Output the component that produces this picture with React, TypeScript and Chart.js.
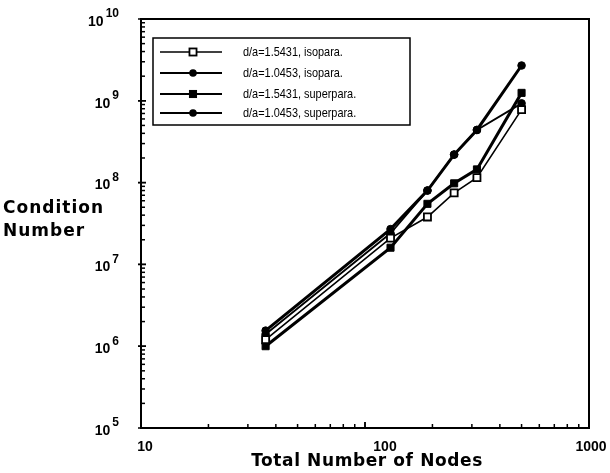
import React, { useEffect, useRef } from "react";
import { Chart, registerables } from "chart.js";

Chart.register(...registerables);

const nodes = [36, 130, 190, 250, 316, 500];
const isoA = [1.2e6, 2.1e7, 3.8e7, 7.5e7, 1.15e8, 7.8e8]; // d/a=1.5431, isopara.
const isoB = [1.4e6, 2.4e7, 8.0e7, 2.2e8, 4.4e8, 9.3e8]; // d/a=1.0453, isopara.
const superA = [1.0e6, 1.6e7, 5.5e7, 9.8e7, 1.45e8, 1.25e9]; // d/a=1.5431, superpara.
const superB = [1.55e6, 2.7e7, 8.0e7, 2.2e8, 4.4e8, 2.7e9]; // d/a=1.0453, superpara.
const seriesLabels = [
  "d/a=1.5431, isopara.",
  "d/a=1.0453, isopara.",
  "d/a=1.5431, superpara.",
  "d/a=1.0453, superpara.",
];
const xMajorTicks = [10, 100, 1000];
const yMajorExps = [5, 6, 7, 8, 9, 10];
const xTitle = "Total Number of Nodes";
const yTitleLines = ["Condition", "Number"];

const decorPlugin = {
  id: "decor",
  afterDraw(chart: any) {
    const ctx = chart.ctx as CanvasRenderingContext2D;
    const ca = chart.chartArea;
    const xs = chart.scales.x;
    const ys = chart.scales.y;
    ctx.save();
    ctx.strokeStyle = "#000";
    ctx.fillStyle = "#000";
    // frame
    ctx.lineWidth = 2;
    ctx.strokeRect(ca.left, ca.top, ca.right - ca.left, ca.bottom - ca.top);
    // x minor/major ticks (inward)
    ctx.lineWidth = 1.5;
    for (let d = 10; d < 1000; d *= 10) {
      for (let m = 1; m <= 10; m++) {
        const v = d * m;
        const px = xs.getPixelForValue(v);
        const len = m === 1 || m === 10 ? 6 : 4;
        ctx.beginPath();
        ctx.moveTo(px, ca.bottom);
        ctx.lineTo(px, ca.bottom - len);
        ctx.stroke();
      }
    }
    // y minor/major ticks
    for (let e = 5; e < 10; e++) {
      for (let m = 1; m <= 10; m++) {
        const v = m * Math.pow(10, e);
        const py = ys.getPixelForValue(v);
        const major = m === 1 || m === 10;
        ctx.beginPath();
        ctx.moveTo(ca.left - (major ? 3 : 0), py);
        ctx.lineTo(ca.left + (major ? 5 : 4), py);
        ctx.stroke();
      }
    }
    // x tick labels
    ctx.font = "bold 14px 'Liberation Sans', Arial, sans-serif";
    ctx.textAlign = "center";
    ctx.textBaseline = "middle";
    xMajorTicks.forEach((t) => {
      const shift = t === 100 ? 20 : t === 10 ? 4 : 2;
      ctx.fillText(String(t), xs.getPixelForValue(t) + shift, ca.bottom + 19);
    });
    // y tick labels with exponent
    yMajorExps.forEach((e) => {
      const py = ys.getPixelForValue(Math.pow(10, e));
      ctx.font = "bold 12px 'Liberation Sans', Arial, sans-serif";
      const expStr = String(e);
      const ew = ctx.measureText(expStr).width;
      const right = 119;
      ctx.textAlign = "right";
      ctx.fillText(expStr, right, py - 5);
      ctx.font = "bold 14px 'Liberation Sans', Arial, sans-serif";
      ctx.fillText("10", right - ew - 2, py + 3);
    });
    // axis titles
    ctx.font = "bold 17px 'DejaVu Sans', sans-serif";
    (ctx as any).letterSpacing = "0.6px";
    ctx.textAlign = "center";
    ctx.fillText(xTitle, (ca.left + ca.right) / 2 + 2, ca.bottom + 34);
    (ctx as any).letterSpacing = "1px";
    ctx.textAlign = "left";
    ctx.fillText(yTitleLines[0], 3, 209);
    ctx.fillText(yTitleLines[1], 3, 232);
    (ctx as any).letterSpacing = "0px";

    // legend box
    const lx = 153, ly = 38, lw = 257, lh = 87;
    ctx.fillStyle = "#fff";
    ctx.fillRect(lx, ly, lw, lh);
    ctx.fillStyle = "#000";
    ctx.lineWidth = 1.5;
    ctx.strokeRect(lx, ly, lw, lh);
    const rowY = [52, 73, 94, 113];
    chart.data.datasets.forEach((ds: any, i: number) => {
      const y = rowY[i];
      ctx.lineWidth = Math.min(ds.borderWidth, 2);
      ctx.strokeStyle = "#000";
      ctx.beginPath();
      ctx.moveTo(160, y);
      ctx.lineTo(222, y);
      ctx.stroke();
      const r = ds.pointRadius;
      if (ds.pointStyle === "rect") {
        const s = r * Math.SQRT1_2;
        ctx.fillStyle = ds.pointBackgroundColor;
        ctx.fillRect(193 - s, y - s, 2 * s, 2 * s);
        ctx.lineWidth = ds.pointBorderWidth;
        ctx.strokeRect(193 - s, y - s, 2 * s, 2 * s);
      } else {
        ctx.fillStyle = "#000";
        ctx.beginPath();
        ctx.arc(193, y, r, 0, Math.PI * 2);
        ctx.fill();
      }
      ctx.fillStyle = "#000";
      ctx.font = "500 13px 'Liberation Sans', sans-serif";
      ctx.textAlign = "left";
      ctx.textBaseline = "middle";
      const w = ctx.measureText(ds.label).width;
      ctx.fillText(ds.label, 243, y, w * 0.84);
    });
    ctx.restore();
  },
};

export default function App() {
  const ref = useRef<HTMLCanvasElement>(null);
  useEffect(() => {
    const mk = (data: number[]) => nodes.map((n, i) => ({ x: n, y: data[i] }));
    const chart = new Chart(ref.current as HTMLCanvasElement, {
      type: "line",
      data: {
        datasets: [
          {
            label: seriesLabels[0],
            data: mk(isoA),
            borderColor: "#000",
            borderWidth: 1.6,
            pointStyle: "rect",
            pointRadius: 5,
            pointBackgroundColor: "#fff",
            pointBorderColor: "#000",
            pointBorderWidth: 1.8,
          },
          {
            label: seriesLabels[1],
            data: mk(isoB),
            borderColor: "#000",
            borderWidth: 1.8,
            pointStyle: "circle",
            pointRadius: 3.8,
            pointBackgroundColor: "#000",
            pointBorderColor: "#000",
            pointBorderWidth: 1,
          },
          {
            label: seriesLabels[2],
            data: mk(superA),
            borderColor: "#000",
            borderWidth: 3,
            pointStyle: "rect",
            pointRadius: 5,
            pointBackgroundColor: "#000",
            pointBorderColor: "#000",
            pointBorderWidth: 1,
          },
          {
            label: seriesLabels[3],
            data: mk(superB),
            borderColor: "#000",
            borderWidth: 3,
            pointStyle: "circle",
            pointRadius: 3.8,
            pointBackgroundColor: "#000",
            pointBorderColor: "#000",
            pointBorderWidth: 1,
          },
        ],
      },
      options: {
        animation: false,
        responsive: true,
        maintainAspectRatio: false,
        layout: { padding: { left: 141, top: 19, right: 21, bottom: 45 } },
        plugins: { legend: { display: false }, tooltip: { enabled: false } },
        scales: {
          x: { type: "logarithmic", min: 10, max: 1000, display: false },
          y: { type: "logarithmic", min: 1e5, max: 1e10, display: false },
        },
      },
      plugins: [decorPlugin],
    });
    return () => chart.destroy();
  }, []);
  return (
    <div style={{ position: "absolute", left: 0, top: 0, width: 610, height: 473, background: "#fff" }}>
      <canvas ref={ref} />
    </div>
  );
}
